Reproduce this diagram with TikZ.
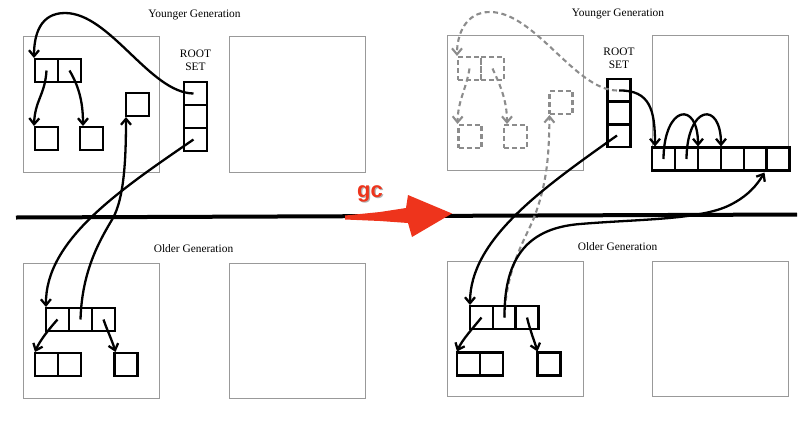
\documentclass[tikz,border=0pt]{standalone}
\usepackage{fontspec}
\setmainfont{Liberation Serif}
\newfontfamily\gcfont{Liberation Sans}
\usetikzlibrary{arrows.meta}
\definecolor{gcred}{RGB}{238,52,28}
\definecolor{dgray}{RGB}{140,140,140}
\tikzset{
  cell/.style={draw, line width=2.6pt, minimum width=23pt, minimum height=23pt, inner sep=0pt, outer sep=0pt},
  dcell/.style={cell, draw=dgray, line width=2.2pt, dash pattern=on 5pt off 3pt},
  gen/.style={draw=black!40, line width=0.9pt, minimum width=136pt, minimum height=136pt, inner sep=0pt},
  lbl/.style={font=\fontsize{11.4}{12.6}\selectfont, align=center, inner sep=0pt},
  conn/.style={line width=2.3pt, -{Straight Barb[length=6pt,width=10pt]}},
  dconn/.style={conn, draw=dgray, line width=2.1pt, dash pattern=on 5pt off 3.5pt},
}
\begin{document}
\begin{tikzpicture}[x=1pt,y=-1pt]
\useasboundingbox (0,0) rectangle (807,421);
% generation boxes
\node[gen] (yl1) at (91,104) {};
\node[gen] (yl2) at (297,104.5) {};
\node[gen, minimum height=135pt] (ol1) at (91,330.5) {};
\node[gen, minimum height=135pt] (ol2) at (297,330.5) {};
\node[gen, minimum height=135pt] (yr1) at (515,102.5) {};
\node[gen, minimum height=135pt] (yr2) at (720,102.5) {};
\node[gen, minimum height=135pt] (or1) at (515,328.5) {};
\node[gen, minimum height=135pt] (or2) at (720,328.5) {};
% labels
\node[lbl] (tyl) at (194.5,15) {Younger Generation};
\node[lbl] (tol) at (193.5,249) {Older Generation};
\node[lbl] (tyr) at (618,14) {Younger Generation};
\node[lbl] (tor) at (617.5,247) {Older Generation};
\node[lbl] (rsl) at (195.5,60.5) {ROOT\\SET};
\node[lbl] (rsr) at (619,58) {ROOT\\SET};
% dividing line
\coordinate (la) at (16,217.5);
\coordinate (lb) at (797,214.5);
\draw[line width=4pt] (la) -- (lb);
% ---------- left panel ----------
\node[cell] (p1) at (46.5,70.5) {};
\node[cell] (p2) at (69.5,70.5) {};
\node[cell] (c1) at (46.5,138.5) {};
\node[cell] (c2) at (91.5,138.5) {};
\node[cell] (lone) at (137.5,104.5) {};
\node[cell] (r1) at (195.5,93.5) {};
\node[cell] (r2) at (195.5,116.5) {};
\node[cell] (r3) at (195.5,139.5) {};
\node[cell] (o1) at (57.5,319.5) {};
\node[cell] (o2) at (80.5,319.5) {};
\node[cell] (o3) at (103.5,319.5) {};
\node[cell] (q1) at (46.5,364.5) {};
\node[cell] (q2) at (69.5,364.5) {};
\node[cell] (s) at (126,364.5) {};
\draw[conn] ([xshift=-2pt]r1.center) .. controls (150,93) and (110,13) .. (65,13) .. controls (40,13) and (34,35) .. ([xshift=-1pt,yshift=1pt]p1.north west);
\draw[conn] (p1.center) .. controls (45,95) and (35,100) .. ([xshift=-1pt,yshift=1pt]c1.north west);
\draw[conn] (p2.center) .. controls (78,85) and (83,100) .. ([xshift=3pt,yshift=1pt]c2.north west);
\draw[conn] ([xshift=-2pt]r3.center) .. controls (120,190) and (45,240) .. ([yshift=1pt]o1.north west);
\draw[conn] (o2.center) .. controls (82,270) and (100,240) .. (113,218) .. controls (124,198) and (126,160) .. ([yshift=-1pt]lone.south west);
\draw[conn] (o1.center) .. controls (50,328) and (40,340) .. ([yshift=1pt]q1.north west);
\draw[conn] (o3.center) .. controls (107,330) and (112,340) .. ([xshift=1pt,yshift=1pt]s.north west);
% ---------- right panel ----------
\node[dcell] (dp1) at (469.5,68.5) {};
\node[dcell] (dp2) at (492.5,68.5) {};
\node[dcell] (dc1) at (470,136.5) {};
\node[dcell] (dc2) at (515.5,136.5) {};
\node[dcell] (dl) at (561,102.5) {};
\node[cell] (R1) at (619,90.5) {};
\node[cell] (R2) at (619,113) {};
\node[cell] (R3) at (619,135.5) {};
\node[cell] (k1) at (663.5,159) {};
\node[cell] (k2) at (686.5,159) {};
\node[cell] (k3) at (709.5,159) {};
\node[cell] (k4) at (732.5,159) {};
\node[cell] (k5) at (755.5,159) {};
\node[cell] (k6) at (778,159) {};
\node[cell] (O1) at (481.5,317.5) {};
\node[cell] (O2) at (504.5,317.5) {};
\node[cell] (O3) at (527,317.5) {};
\node[cell] (Q1) at (468.5,364) {};
\node[cell] (Q2) at (491.5,364) {};
\node[cell] (S) at (549,364) {};
\draw[dconn] ([xshift=-2pt]R1.center) .. controls (575,90) and (535,12) .. (490,12) .. controls (465,12) and (457,35) .. ([xshift=-1pt,yshift=1pt]dp1.north west);
\draw[dconn] (dp1.center) .. controls (466,90) and (458,100) .. ([xshift=-1pt,yshift=1pt]dc1.north west);
\draw[dconn] (dp2.center) .. controls (500,85) and (507,100) .. ([xshift=3pt,yshift=1pt]dc2.north west);
\draw[dconn] (O2.center) .. controls (506,265) and (528,235) .. (535,215) .. controls (548,180) and (549,150) .. ([yshift=-1pt]dl.south west);
\draw[conn] (R1.center) .. controls (650,90) and (655,110) .. ([xshift=3pt,yshift=1pt]k1.north west);
\draw[conn] (k1.center) .. controls (664,105) and (698,100) .. ([yshift=1pt]k3.north west);
\draw[conn] (k2.center) .. controls (687,105) and (721,100) .. ([yshift=1pt]k4.north west);
\draw[conn] ([xshift=-2pt]R3.center) .. controls (540,190) and (470,240) .. ([yshift=1pt]O1.north west);
\draw[conn] (O2.center) .. controls (504,255) and (530,228) .. (580,224) .. controls (640,219) and (700,220) .. (730,205) .. controls (748,196) and (757,185) .. ([xshift=-2pt,yshift=-2pt]k6.south west);
\draw[conn] (O1.center) .. controls (473,328) and (462,340) .. ([yshift=1pt]Q1.north west);
\draw[conn] (O3.center) .. controls (530,330) and (534,340) .. ([yshift=1pt]S.north west);
% ---------- gc arrow ----------
\fill[gcred] (345,215.5) -- (380,212) -- (406,208) -- (408,195) -- (452,213.5) -- (412,237) -- (408,223) -- (380,221) -- (345,219.5) -- cycle;
\node[font=\gcfont\bfseries\fontsize{22}{22}\selectfont, text=black!30, anchor=base, inner sep=0pt] (gcs) at (371.2,198.5) {gc};
\node[font=\gcfont\bfseries\fontsize{22}{22}\selectfont, text=gcred, anchor=base, inner sep=0pt] (gc) at (370,197) {gc};
\end{tikzpicture}
\end{document}
